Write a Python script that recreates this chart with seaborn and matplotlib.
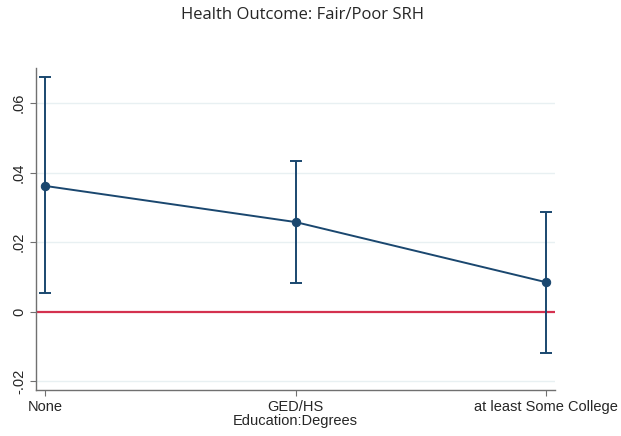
import matplotlib
matplotlib.use("Agg")
import matplotlib.pyplot as plt
import seaborn as sns
import pandas as pd
import numpy as np

categories = ["None", "GED/HS", "at least Some College"]
estimate = [0.0362, 0.0258, 0.0085]
ci_low = [0.0053, 0.0083, -0.0118]
ci_high = [0.0676, 0.0434, 0.0287]
ytick_vals = [-0.02, 0, 0.02, 0.04, 0.06]
ytick_labels = ["-.02", "0", ".02", ".04", ".06"]

sns.set_style("white")
plt.rcParams["font.family"] = ["Liberation Sans", "DejaVu Sans"]

navy = "#1a476f"
fig = plt.figure(figsize=(6.21, 4.36), dpi=100)
ax = fig.add_axes([0.0575, 0.1055, 0.8355, 0.7385])

df = pd.DataFrame({"x": np.arange(len(categories)), "y": estimate})

# grid
for v in ytick_vals:
    if v != 0:
        ax.axhline(v, color="#e8f0f2", lw=1.0, zorder=0)
ax.axhline(0, color="#d4314f", lw=1.6, zorder=1)

ax.errorbar(df["x"], df["y"],
            yerr=[np.array(estimate) - np.array(ci_low), np.array(ci_high) - np.array(estimate)],
            fmt="none", ecolor=navy, elinewidth=1.4, capsize=4, capthick=1.4, zorder=2)
sns.lineplot(data=df, x="x", y="y", ax=ax, color=navy, lw=1.4, marker="o",
             markersize=6, markeredgecolor=navy, zorder=3)

ax.set_xlim(-0.037, 2.034)
ax.set_ylim(-0.0225, 0.0701)
ax.set_xticks(range(len(categories)))
ax.set_xticklabels(categories, fontsize=10.5)
ax.set_yticks(ytick_vals)
ax.set_yticklabels(ytick_labels, fontsize=10.5, rotation=90, va="center")
ax.set_xlabel("Education:Degrees", fontsize=10.5, labelpad=0.5)
ax.set_ylabel("")
ax.tick_params(axis="both", which="both", direction="out", length=4, width=0.8,
               color="#707070", left=True, bottom=True, pad=3)
for s in ["top", "right"]:
    ax.spines[s].set_visible(False)
for s in ["left", "bottom"]:
    ax.spines[s].set_color("#707070")
    ax.spines[s].set_linewidth(1.0)

fig.text(0.487, 0.966, "Health Outcome: Fair/Poor SRH", ha="center", va="center",
         fontsize=12, family=["Open Sans", "DejaVu Sans"])

fig.savefig("out.png", dpi=100, facecolor="white")
